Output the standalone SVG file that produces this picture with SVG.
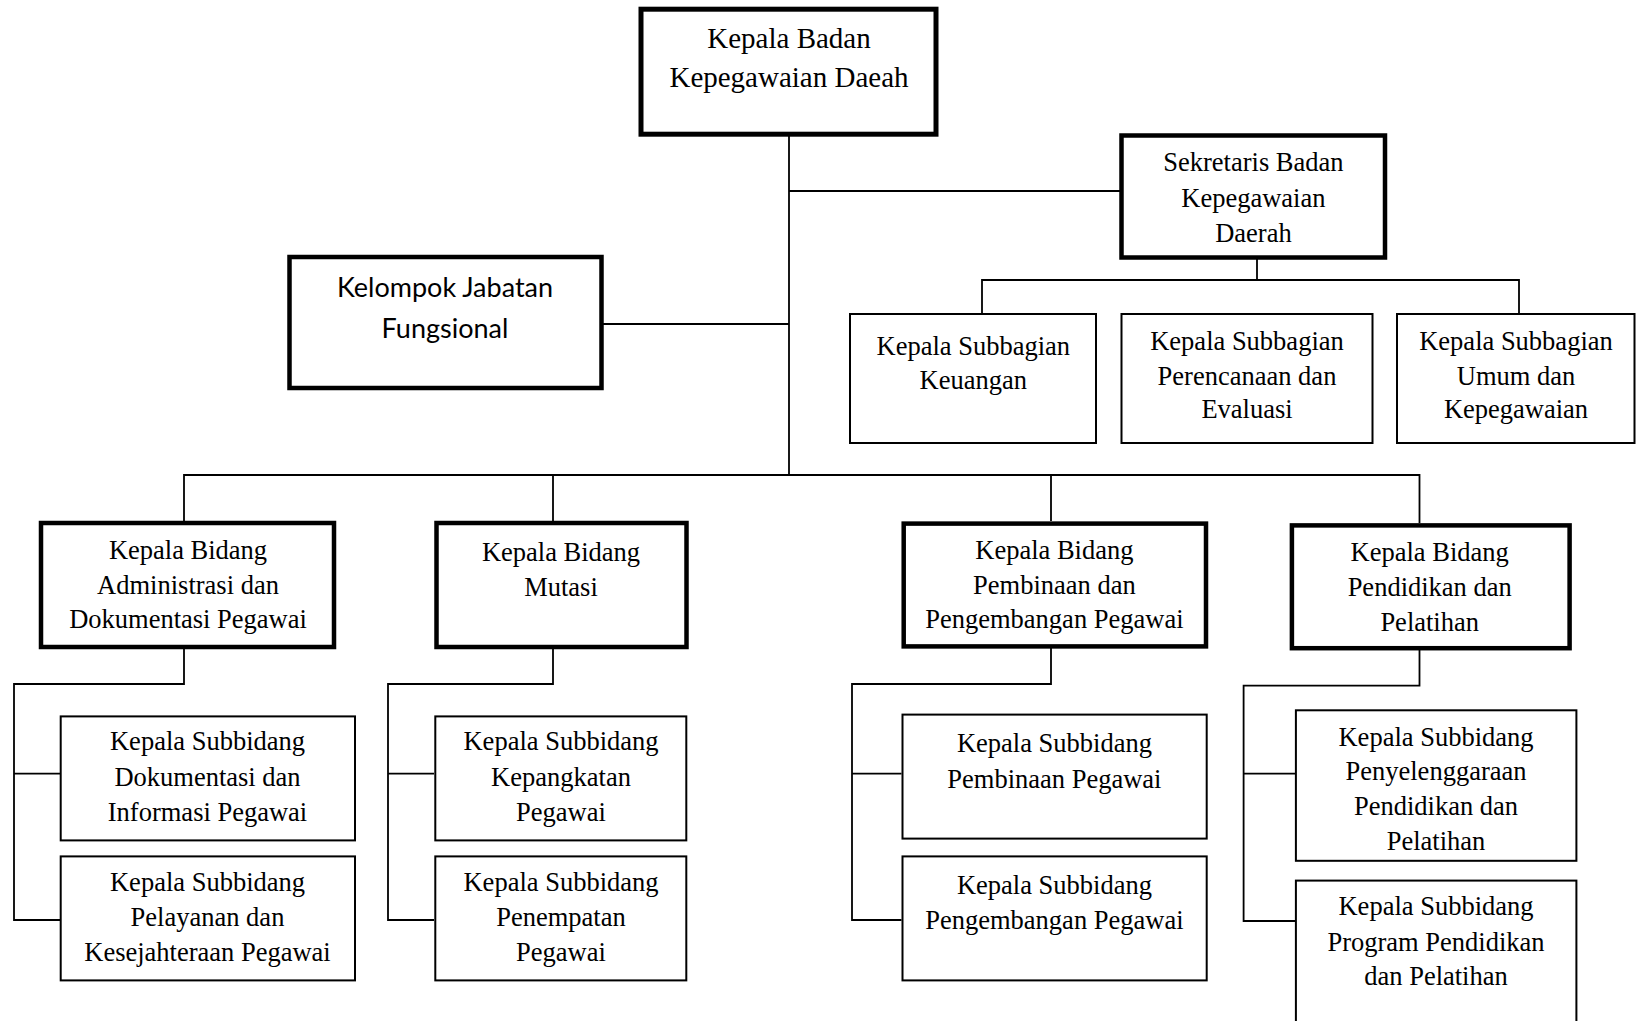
<svg xmlns="http://www.w3.org/2000/svg" width="1644" height="1021" viewBox="0 0 1644 1021">
<style>
.bg{fill:#fff}
.thick{fill:#fff;stroke:#000;stroke-width:4.5}
.thin{fill:#fff;stroke:#000;stroke-width:2}
.conn{fill:none;stroke:#000;stroke-width:1.8}
.t{font-family:"Liberation Serif","Times New Roman",serif;font-size:26.5px;text-anchor:middle;fill:#000}
.tt{font-family:"Liberation Serif","Times New Roman",serif;font-size:29px;text-anchor:middle;fill:#000}
.ts{font-family:Lato,"Liberation Sans",sans-serif;font-size:27px;text-anchor:middle;fill:#000}
</style>
<rect class="bg" x="0" y="0" width="1644" height="1021"/>
<g id="connectors">
<path class="conn" d="M789 134 V475"/>
<path class="conn" d="M789 191 H1121"/>
<path class="conn" d="M603 324 H789"/>
<path class="conn" d="M1257 258 V280 M982 313 V280 H1519 V313"/>
<path class="conn" d="M184 521 V475 H1419.5 V523 M553 475 V521 M1051 475 V521"/>
<path class="conn" d="M184 649 V684 H14 V920 H60 M14 773.6 H60"/>
<path class="conn" d="M553 649 V684 H388 V920 H434 M388 773.6 H434"/>
<path class="conn" d="M1051 648 V684 H852 V920 H901.5 M852 773.6 H901.5"/>
<path class="conn" d="M1419.5 650 V685.7 H1243.6 V921 H1295 M1243.6 773.6 H1295"/>
</g>
<g id="kepala-badan">
<rect x="641" y="9.2" width="295" height="125" style="fill:#fff;stroke:#000;stroke-width:5"/>
<text class="tt" x="789" y="47.5">Kepala Badan</text>
<text class="tt" x="789" y="87.3">Kepegawaian Daeah</text>
</g>
<g id="sekretaris">
<rect class="thick" x="1121.5" y="135.5" width="263.5" height="122"/>
<text class="t" x="1253.4" y="171">Sekretaris Badan</text>
<text class="t" x="1253.4" y="206.5">Kepegawaian</text>
<text class="t" x="1253.4" y="241.5">Daerah</text>
</g>
<g id="kelompok">
<rect class="thick" x="289.5" y="257" width="312" height="131"/>
<text class="ts" x="445" y="296.7">Kelompok Jabatan</text>
<text class="ts" x="445" y="338.3">Fungsional</text>
</g>
<g id="subbag-keuangan">
<rect class="thin" x="850" y="314" width="246" height="129"/>
<text class="t" x="973.3" y="355">Kepala Subbagian</text>
<text class="t" x="973.3" y="389.3">Keuangan</text>
</g>
<g id="subbag-perencanaan">
<rect class="thin" x="1121.5" y="314" width="251" height="129"/>
<text class="t" x="1247" y="350">Kepala Subbagian</text>
<text class="t" x="1247" y="385">Perencanaan dan</text>
<text class="t" x="1247" y="418.3">Evaluasi</text>
</g>
<g id="subbag-umum">
<rect class="thin" x="1397" y="314" width="237.5" height="129"/>
<text class="t" x="1516" y="350">Kepala Subbagian</text>
<text class="t" x="1516" y="385">Umum dan</text>
<text class="t" x="1516" y="418.3">Kepegawaian</text>
</g>
<g id="bidang-administrasi">
<rect class="thick" x="41" y="523" width="293" height="124"/>
<text class="t" x="188" y="559.3">Kepala Bidang</text>
<text class="t" x="188" y="594">Administrasi dan</text>
<text class="t" x="188" y="627.9">Dokumentasi Pegawai</text>
</g>
<g id="bidang-mutasi">
<rect class="thick" x="436.5" y="523" width="250" height="124"/>
<text class="t" x="561" y="561">Kepala Bidang</text>
<text class="t" x="561" y="595.7">Mutasi</text>
</g>
<g id="bidang-pembinaan">
<rect class="thick" x="903.7" y="523.6" width="302.3" height="122.8"/>
<text class="t" x="1054.4" y="559.3">Kepala Bidang</text>
<text class="t" x="1054.4" y="594">Pembinaan dan</text>
<text class="t" x="1054.4" y="627.9">Pengembangan Pegawai</text>
</g>
<g id="bidang-pendidikan">
<rect class="thick" x="1291.9" y="525.4" width="277.7" height="122.8"/>
<text class="t" x="1429.7" y="561">Kepala Bidang</text>
<text class="t" x="1429.7" y="595.7">Pendidikan dan</text>
<text class="t" x="1429.7" y="630.7">Pelatihan</text>
</g>
<g id="subbid-dokumentasi">
<rect class="thin" x="60.7" y="716.4" width="294.3" height="124"/>
<text class="t" x="207.5" y="750">Kepala Subbidang</text>
<text class="t" x="207.5" y="786">Dokumentasi dan</text>
<text class="t" x="207.5" y="821.4">Informasi Pegawai</text>
</g>
<g id="subbid-pelayanan">
<rect class="thin" x="60.7" y="856.4" width="294.3" height="124"/>
<text class="t" x="207.5" y="891.4">Kepala Subbidang</text>
<text class="t" x="207.5" y="926">Pelayanan dan</text>
<text class="t" x="207.5" y="960.7">Kesejahteraan Pegawai</text>
</g>
<g id="subbid-kepangkatan">
<rect class="thin" x="435.3" y="716.4" width="251" height="124"/>
<text class="t" x="561" y="750">Kepala Subbidang</text>
<text class="t" x="561" y="786">Kepangkatan</text>
<text class="t" x="561" y="821.4">Pegawai</text>
</g>
<g id="subbid-penempatan">
<rect class="thin" x="435.3" y="856.4" width="251" height="124"/>
<text class="t" x="561" y="891.4">Kepala Subbidang</text>
<text class="t" x="561" y="926">Penempatan</text>
<text class="t" x="561" y="960.7">Pegawai</text>
</g>
<g id="subbid-pembinaan">
<rect class="thin" x="902.5" y="714.6" width="304.2" height="124"/>
<text class="t" x="1054.4" y="752">Kepala Subbidang</text>
<text class="t" x="1054.4" y="787.9">Pembinaan Pegawai</text>
</g>
<g id="subbid-pengembangan">
<rect class="thin" x="902.5" y="856.4" width="304.2" height="124"/>
<text class="t" x="1054.4" y="894">Kepala Subbidang</text>
<text class="t" x="1054.4" y="928.6">Pengembangan Pegawai</text>
</g>
<g id="subbid-penyelenggaraan">
<rect class="thin" x="1295.9" y="710.3" width="280.5" height="150.5"/>
<text class="t" x="1436" y="745.7">Kepala Subbidang</text>
<text class="t" x="1436" y="779.6">Penyelenggaraan</text>
<text class="t" x="1436" y="815.4">Pendidikan dan</text>
<text class="t" x="1436" y="850.4">Pelatihan</text>
</g>
<g id="subbid-program">
<rect class="thin" x="1295.9" y="880.6" width="280.5" height="160"/>
<text class="t" x="1436" y="915.4">Kepala Subbidang</text>
<text class="t" x="1436" y="951">Program Pendidikan</text>
<text class="t" x="1436" y="985">dan Pelatihan</text>
</g>
</svg>
